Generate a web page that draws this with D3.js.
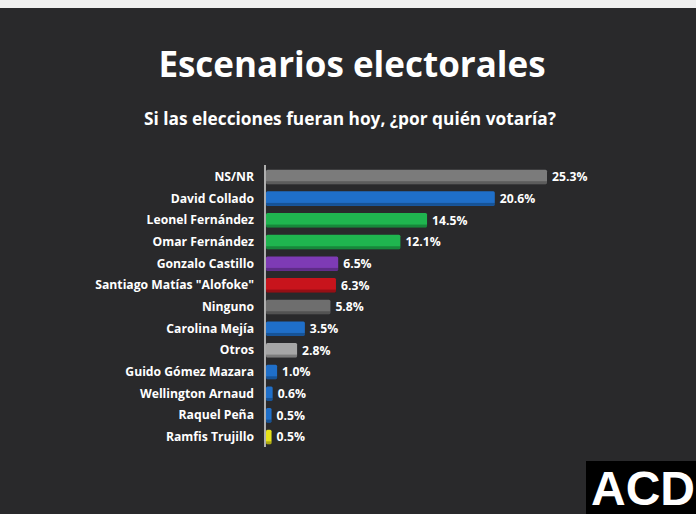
<!DOCTYPE html>
<html><head><meta charset="utf-8">
<script src="https://cdn.jsdelivr.net/npm/d3@7"></script>
<style>body{margin:0;background:#29292b}svg{display:block}</style>
</head><body><svg id="c" width="696" height="514"></svg>
<script>
const categories=["NS/NR","David Collado","Leonel Fernández","Omar Fernández","Gonzalo Castillo","Santiago Matías \"Alofoke\"","Ninguno","Carolina Mejía","Otros","Guido Gómez Mazara","Wellington Arnaud","Raquel Peña","Ramfis Trujillo"];
const values=[25.3,20.6,14.5,12.1,6.5,6.3,5.8,3.5,2.8,1.0,0.6,0.5,0.5];
const colors=["#7b7b7b","#1f6fc9","#1fb54f","#1fb54f","#7e3bb5","#c8141c","#6e6e6e","#1f6fc9","#a6a6a6","#1f6fc9","#1f6fc9","#1f6fc9","#e6e21a"];
const svg=d3.select("#c");
svg.append("rect").attr("width",696).attr("height",514).attr("fill","#29292b");
svg.append("rect").attr("width",696).attr("height",8).attr("fill","#efefef");
svg.append("text").attr("x",352).attr("y",77).attr("text-anchor","middle").attr("fill","#fff")
 .attr("font-family","Open Sans").attr("font-weight",700).attr("font-size",35).text("Escenarios electorales");
svg.append("text").attr("x",350).attr("y",125).attr("text-anchor","middle").attr("fill","#fff")
 .attr("font-family","Open Sans").attr("font-weight",700).attr("font-size",17.3).text("Si las elecciones fueran hoy, ¿por quién votaría?");
const x=d3.scaleLinear().domain([0,25.3]).range([266,547]);
const y=d3.scaleBand().domain(categories).range([166,448]).paddingInner(0.33).paddingOuter(0.17);
const g=svg.append("g");
g.selectAll("rect.b").data(categories).join("rect").attr("class","b")
 .attr("x",x(0)).attr("y",d=>y(d)).attr("width",(d,i)=>x(values[i])-x(0)).attr("height",y.bandwidth())
 .attr("fill",(d,i)=>colors[i]).attr("rx",1.5);
g.selectAll("rect.s").data(categories).join("rect").attr("class","s")
 .attr("x",x(0)).attr("y",d=>y(d)+y.bandwidth()-3).attr("width",(d,i)=>x(values[i])-x(0)).attr("height",3)
 .attr("fill","#000").attr("opacity",0.25);
const yAxis=d3.axisLeft(y).tickSize(0).tickPadding(11);
const ax=svg.append("g").attr("transform",`translate(${x(0)-1},0)`).call(yAxis);
ax.select(".domain").attr("stroke","#ddd").attr("stroke-width",1.5).attr("d","M0,165V447");
ax.selectAll("text").attr("fill","#fff").attr("font-family","Open Sans").attr("font-weight",700).attr("font-size",12.2);
g.selectAll("text.v").data(categories).join("text").attr("class","v")
 .attr("x",(d,i)=>x(values[i])+5).attr("y",d=>y(d)+y.bandwidth()/2).attr("dy","0.35em")
 .attr("fill","#fff").attr("font-family","Open Sans").attr("font-weight",700).attr("font-size",12.2)
 .text((d,i)=>values[i].toFixed(1)+"%");
svg.append("rect").attr("x",586).attr("y",461).attr("width",110).attr("height",53).attr("fill","#000");
svg.append("text").attr("x",643).attr("y",505).attr("text-anchor","middle").attr("fill","#fff")
 .attr("font-family","Liberation Sans").attr("font-weight",700).attr("font-size",48).text("ACD");
</script></body></html>
